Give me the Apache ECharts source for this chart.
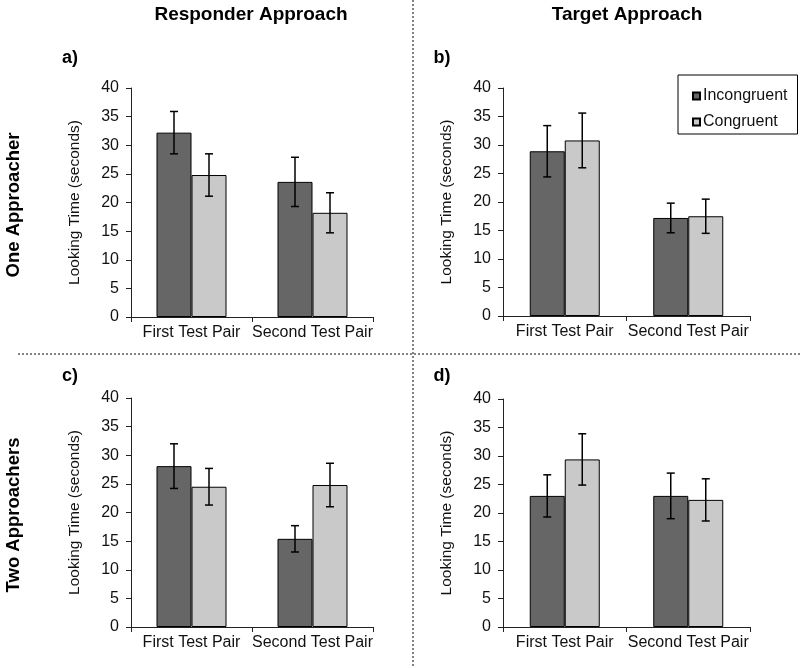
<!DOCTYPE html>
<html>
<head>
<meta charset="utf-8">
<script src="https://cdn.jsdelivr.net/npm/echarts@6/dist/echarts.min.js"></script>
<style>
html,body{margin:0;padding:0;background:#fff;}
#chart{width:800px;height:668px;}
</style>
</head>
<body>
<div id="chart"></div>
<script>
var categories = ['First Test Pair', 'Second Test Pair'];
var yTicks = [0, 5, 10, 15, 20, 25, 30, 35, 40];
var seriesNames = ['Incongruent', 'Congruent'];
var colTitles = ['Responder Approach', 'Target Approach'];
var rowTitles = ['One Approacher', 'Two Approachers'];
var panelLetters = ['a)', 'b)', 'c)', 'd)'];

var aIncong = [32.2, 23.6];   var aIncongErr = [3.7, 4.3];
var aCong   = [24.8, 18.2];   var aCongErr   = [3.7, 3.5];
var bIncong = [28.9, 17.2];   var bIncongErr = [4.5, 2.6];
var bCong   = [30.8, 17.5];   var bCongErr   = [4.8, 3.0];
var cIncong = [28.1, 15.4];   var cIncongErr = [3.9, 2.3];
var cCong   = [24.5, 24.8];   var cCongErr   = [3.2, 3.8];
var dIncong = [23.0, 23.0];   var dIncongErr = [3.7, 4.0];
var dCong   = [29.4, 22.3];   var dCongErr   = [4.5, 3.7];

var panels = [
  {inc: aIncong, incErr: aIncongErr, con: aCong, conErr: aCongErr},
  {inc: bIncong, incErr: bIncongErr, con: bCong, conErr: bCongErr},
  {inc: cIncong, incErr: cIncongErr, con: cCong, conErr: cCongErr},
  {inc: dIncong, incErr: dIncongErr, con: dCong, conErr: dCongErr}
];

var BAR_W = 35;
var DARK = '#666666', LIGHT = '#c9c9c9';
var FONT = '"Liberation Sans", Arial, Helvetica, sans-serif';

var grids = [
  {left: 131, top: 88, width: 242, height: 229},
  {left: 503, top: 88, width: 247, height: 228},
  {left: 131, top: 398, width: 242, height: 229},
  {left: 503, top: 399, width: 247, height: 228}
];

var xAxes = [], yAxes = [], series = [];

function errRender(offset, errs) {
  return function (params, api) {
    var ci = api.value(0);
    var v = api.value(1);
    var e = errs[params.dataIndex];
    var top = api.coord([ci, v + e]);
    var bot = api.coord([ci, v - e]);
    var x = top[0] + offset;
    var cap = 4;
    var st = {stroke: '#000', lineWidth: 1.5};
    return {
      type: 'group',
      children: [
        {type: 'line', shape: {x1: x, y1: top[1], x2: x, y2: bot[1]}, style: st},
        {type: 'line', shape: {x1: x - cap, y1: top[1], x2: x + cap, y2: top[1]}, style: st},
        {type: 'line', shape: {x1: x - cap, y1: bot[1], x2: x + cap, y2: bot[1]}, style: st}
      ]
    };
  };
}

panels.forEach(function (p, i) {
  xAxes.push({
    type: 'category', gridIndex: i, data: categories,
    axisLine: {lineStyle: {color: '#222', width: 1}},
    axisTick: {show: true, length: 5, lineStyle: {color: '#222'}},
    axisLabel: {color: '#111', fontSize: 16, fontFamily: FONT, margin: 8, interval: 0},
    splitLine: {show: false}
  });
  yAxes.push({
    type: 'value', gridIndex: i, min: 0, max: 40, interval: 5,
    name: 'Looking Time (seconds)', nameLocation: 'middle', nameGap: 48,
    nameTextStyle: {color: '#111', fontSize: 15.5, fontFamily: FONT},
    axisLine: {show: true, lineStyle: {color: '#222', width: 1}},
    axisTick: {show: true, length: 5, lineStyle: {color: '#222'}},
    axisLabel: {color: '#111', fontSize: 16, fontFamily: FONT, margin: 12},
    splitLine: {show: false}
  });
  series.push({
    name: seriesNames[0], type: 'bar', xAxisIndex: i, yAxisIndex: i,
    data: p.inc, barWidth: BAR_W, barGap: '0%',
    itemStyle: {color: DARK, borderColor: '#000', borderWidth: 1},
    silent: true, animation: false
  });
  series.push({
    name: seriesNames[1], type: 'bar', xAxisIndex: i, yAxisIndex: i,
    data: p.con, barWidth: BAR_W, barGap: '0%',
    itemStyle: {color: LIGHT, borderColor: '#000', borderWidth: 1},
    silent: true, animation: false
  });
  series.push({
    type: 'custom', xAxisIndex: i, yAxisIndex: i,
    data: p.inc.map(function (v, k) { return [k, v]; }),
    renderItem: errRender(-BAR_W / 2, p.incErr), z: 10, silent: true, animation: false
  });
  series.push({
    type: 'custom', xAxisIndex: i, yAxisIndex: i,
    data: p.con.map(function (v, k) { return [k, v]; }),
    renderItem: errRender(BAR_W / 2, p.conErr), z: 10, silent: true, animation: false
  });
});

var dash = {stroke: '#333', lineWidth: 1.2, lineDash: [2, 2]};
var boldText = function (x, y, t, size, extra) {
  var o = {type: 'text', x: x, y: y,
    style: {text: t, fill: '#000', font: 'bold ' + size + 'px ' + FONT,
      textAlign: 'center', textVerticalAlign: 'middle'}};
  if (extra) { for (var k in extra) o[k] = extra[k]; }
  return o;
};

var graphics = [
  {type: 'line', shape: {x1: 413, y1: 0, x2: 413, y2: 668}, style: dash, silent: true},
  {type: 'line', shape: {x1: 18, y1: 354, x2: 800, y2: 354}, style: dash, silent: true},
  boldText(251, 15, colTitles[0], 19),
  boldText(627, 15, colTitles[1], 19),
  boldText(70, 58, panelLetters[0], 18),
  boldText(442, 58, panelLetters[1], 18),
  boldText(70, 376, panelLetters[2], 18),
  boldText(442, 376, panelLetters[3], 18),
  boldText(14, 205, rowTitles[0], 18.5, {rotation: Math.PI / 2}),
  boldText(14, 515, rowTitles[1], 18.5, {rotation: Math.PI / 2})
];

var chart = echarts.init(document.getElementById('chart'), null, {renderer: 'canvas'});
chart.setOption({
  animation: false,
  backgroundColor: '#fff',
  grid: grids,
  xAxis: xAxes,
  yAxis: yAxes,
  series: series,
  legend: {
    data: seriesNames, orient: 'vertical', left: 678, top: 75,
    icon: 'rect', itemWidth: 7, itemHeight: 7, itemGap: 10,
    padding: [13, 10, 4, 14],
    borderColor: '#000', borderWidth: 1,
    textStyle: {color: '#111', fontSize: 16, fontFamily: FONT, padding: [0, 0, 0, -2]},
    selectedMode: false
  },
  graphic: graphics
});
</script>
</body>
</html>
